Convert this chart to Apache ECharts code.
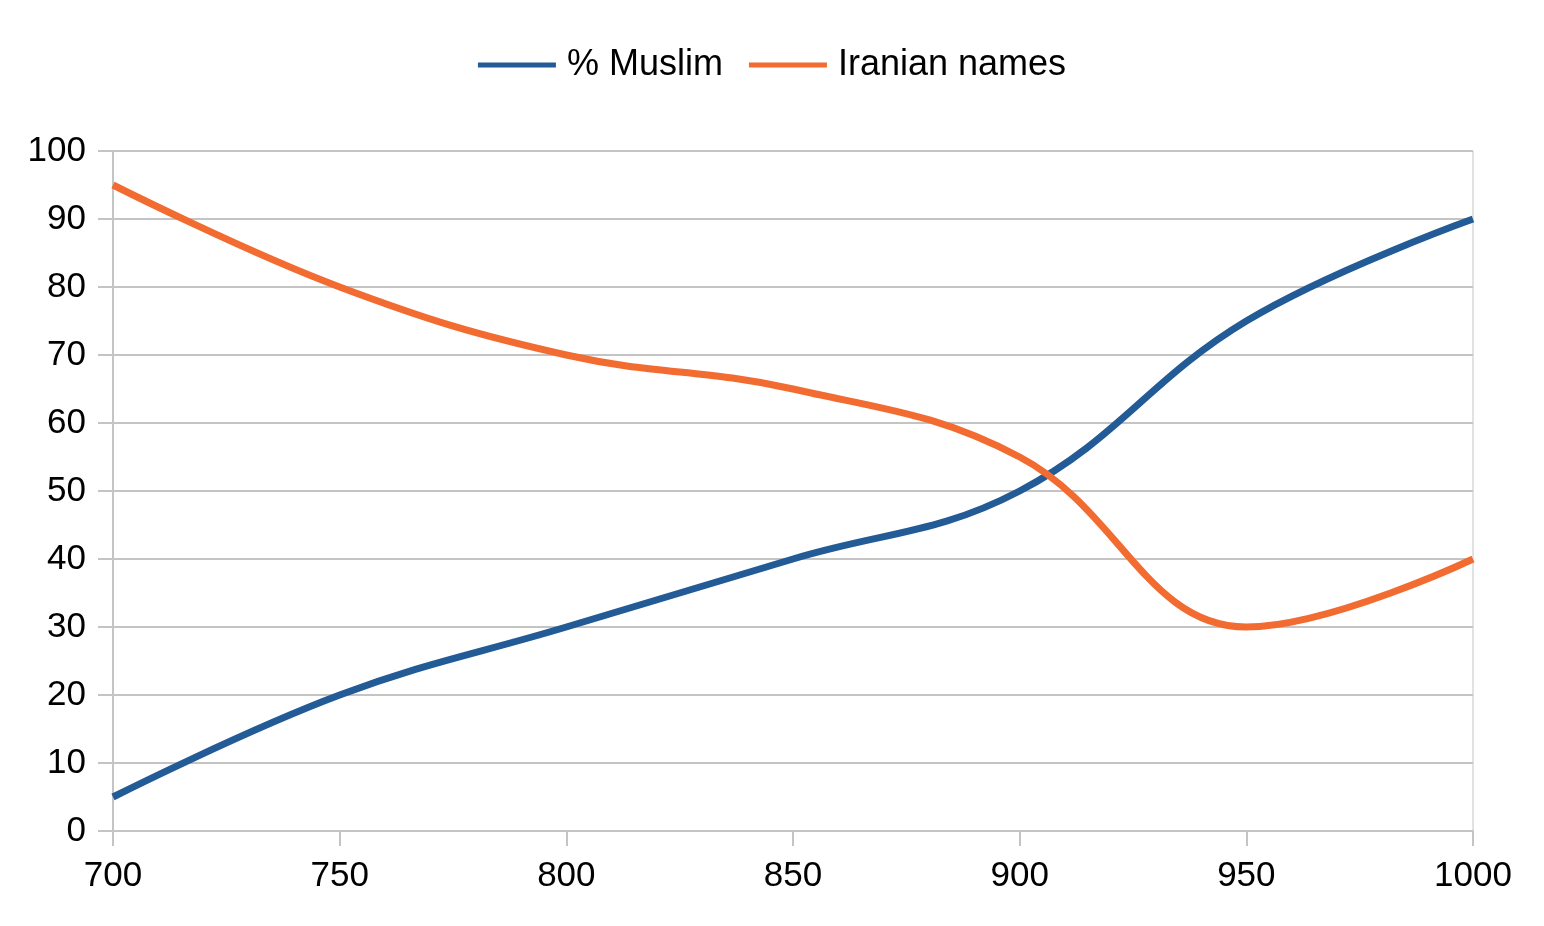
<!DOCTYPE html>
<html>
<head>
<meta charset="utf-8">
<script src="https://cdn.jsdelivr.net/npm/echarts@6/dist/echarts.min.js"></script>
<style>
  html, body { margin: 0; padding: 0; background: #fff; }
  #chart { width: 1544px; height: 926px; }
</style>
</head>
<body>
<div id="chart"></div>
<script>
const years = [700, 750, 800, 850, 900, 950, 1000]
const muslimPct = [5, 20, 30, 40, 50, 75, 90]
const iranianNames = [95, 80, 70, 65, 55, 30, 40]

const blue = '#235b97'
const orange = '#f26b30'
const grey = '#c4c4c4'
const font = '"Liberation Sans", Arial, sans-serif'

const chart = echarts.init(document.getElementById('chart'))

chart.setOption({
  animation: false,
  legend: {
    top: 42,
    left: 'center',
    icon: 'rect',
    itemWidth: 78,
    itemHeight: 5,
    itemGap: 26,
    textStyle: {
      fontFamily: font,
      fontSize: 36,
      color: '#000',
      padding: [0, 0, 0, 6],
    },
  },
  grid: {
    left: 113,
    right: 71,
    top: 151,
    bottom: 95,
    show: true,
    borderColor: grey,
    borderWidth: 1,
  },
  xAxis: {
    type: 'value',
    min: 700,
    max: 1000,
    interval: 50,
    axisLine: { lineStyle: { color: grey, width: 2 } },
    axisTick: { show: true, length: 15, lineStyle: { color: grey, width: 2 } },
    splitLine: { show: false },
    axisLabel: {
      margin: 28,
      color: '#000',
      fontFamily: font,
      fontSize: 35,
      formatter: (v) => String(v),
    },
  },
  yAxis: {
    type: 'value',
    min: 0,
    max: 100,
    interval: 10,
    axisLine: { show: true, lineStyle: { color: grey, width: 2 } },
    axisTick: { show: true, length: 15, lineStyle: { color: grey, width: 2 } },
    splitLine: { lineStyle: { color: grey, width: 2 } },
    axisLabel: {
      margin: 27,
      color: '#000',
      fontFamily: font,
      fontSize: 35,
    },
  },
  series: [
    {
      name: '% Muslim',
      type: 'line',
      data: years.map((y, i) => [y, muslimPct[i]]),
      smooth: 0.4,
      showSymbol: false,
      lineStyle: { color: blue, width: 7 },
      itemStyle: { color: blue },
    },
    {
      name: 'Iranian names',
      type: 'line',
      data: years.map((y, i) => [y, iranianNames[i]]),
      smooth: 0.4,
      showSymbol: false,
      lineStyle: { color: orange, width: 7 },
      itemStyle: { color: orange },
    },
  ],
})
</script>
</body>
</html>
